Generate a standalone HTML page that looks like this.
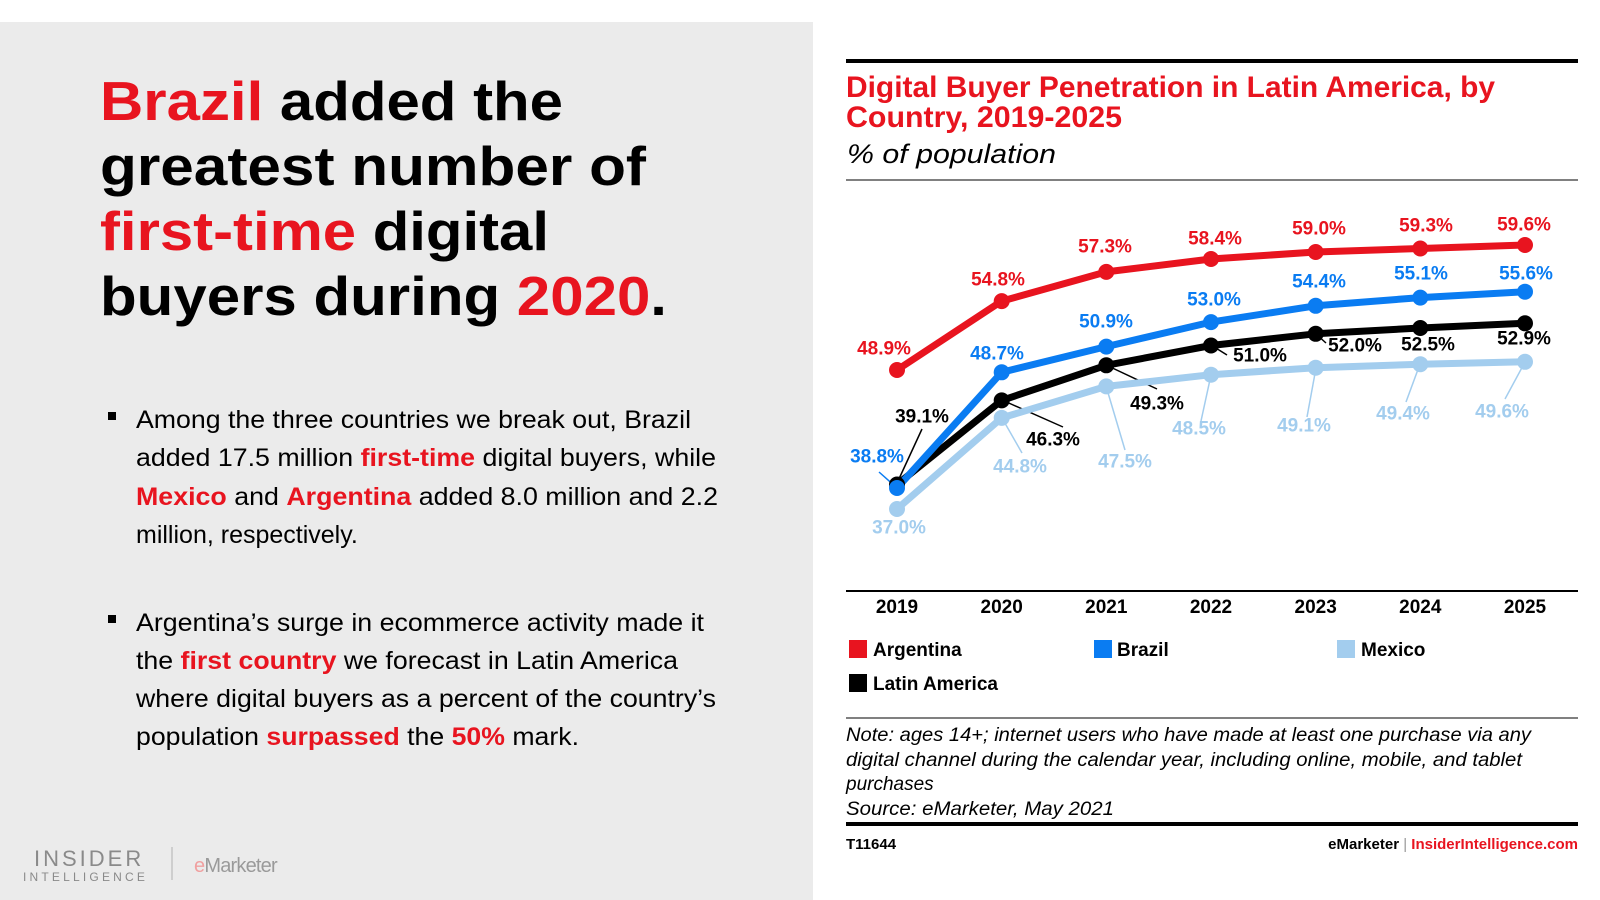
<!DOCTYPE html>
<html><head><meta charset="utf-8"><style>
html,body{margin:0;padding:0;background:#fff}
svg{display:block}
text{font-family:"Liberation Sans",Arial,sans-serif}
</style></head><body>
<svg width="1600" height="900" viewBox="0 0 1600 900" xmlns="http://www.w3.org/2000/svg">
<rect x="0" y="22" width="813" height="878" fill="#ebebeb"/>
<!-- headline -->
<g font-size="55" font-weight="bold" fill="#000">
<text x="100" y="120" textLength="463" lengthAdjust="spacingAndGlyphs"><tspan fill="#e8141f">Brazil</tspan> added the</text>
<text x="100" y="185" textLength="546" lengthAdjust="spacingAndGlyphs">greatest number of</text>
<text x="100" y="250" textLength="449" lengthAdjust="spacingAndGlyphs"><tspan fill="#e8141f">first-time</tspan> digital</text>
<text x="100" y="315" textLength="567" lengthAdjust="spacingAndGlyphs">buyers during <tspan fill="#e8141f">2020</tspan>.</text>
</g>
<g font-size="25" fill="#000">
<rect x="108" y="412" width="8" height="8"/>
<text x="136" y="428" textLength="555" lengthAdjust="spacingAndGlyphs">Among the three countries we break out, Brazil</text>
<text x="136" y="466" textLength="580" lengthAdjust="spacingAndGlyphs">added 17.5 million <tspan fill="#e8141f" font-weight="bold">first-time</tspan> digital buyers, while</text>
<text x="136" y="505" textLength="582" lengthAdjust="spacingAndGlyphs"><tspan fill="#e8141f" font-weight="bold">Mexico</tspan> and <tspan fill="#e8141f" font-weight="bold">Argentina</tspan> added 8.0 million and 2.2</text>
<text x="136" y="543">million, respectively.</text>
<rect x="108" y="615" width="8" height="8"/>
<text x="136" y="631" textLength="568" lengthAdjust="spacingAndGlyphs">Argentina’s surge in ecommerce activity made it</text>
<text x="136" y="669" textLength="542" lengthAdjust="spacingAndGlyphs">the <tspan fill="#e8141f" font-weight="bold">first country</tspan> we forecast in Latin America</text>
<text x="136" y="707" textLength="580" lengthAdjust="spacingAndGlyphs">where digital buyers as a percent of the country’s</text>
<text x="136" y="745" textLength="443" lengthAdjust="spacingAndGlyphs">population <tspan fill="#e8141f" font-weight="bold">surpassed</tspan> the <tspan fill="#e8141f" font-weight="bold">50%</tspan> mark.</text>
</g>
<!-- logo -->
<text x="34" y="866" font-size="22" fill="#8a8a8a" letter-spacing="3">INSIDER</text>
<text x="23" y="881" font-size="12" fill="#8a8a8a" letter-spacing="3.2">INTELLIGENCE</text>
<line x1="172" y1="847" x2="172" y2="880" stroke="#c4c4c4" stroke-width="1.5"/>
<text x="194" y="872" font-size="20" fill="#9a9a9a" letter-spacing="-0.8"><tspan fill="#f0a0a0">e</tspan>Marketer</text>

<!-- chart -->
<rect x="846" y="59" width="732" height="4" fill="#000"/>
<g font-size="30" font-weight="bold" fill="#e8141f">
<text x="846" y="97" textLength="649" lengthAdjust="spacingAndGlyphs">Digital Buyer Penetration in Latin America, by</text>
<text x="846" y="127" textLength="276" lengthAdjust="spacingAndGlyphs">Country,  2019-2025</text>
</g>
<text x="847" y="163" font-size="27" font-style="italic" fill="#000" textLength="209" lengthAdjust="spacingAndGlyphs">% of population</text>
<line x1="846" y1="180" x2="1578" y2="180" stroke="#000" stroke-width="1"/>

<!-- leaders -->
<g stroke-width="1.5" fill="none">
<g stroke="#000">
<line x1="898" y1="481" x2="922" y2="429"/>
<line x1="1002" y1="400" x2="1063" y2="427"/>
<line x1="1106" y1="365" x2="1157" y2="389"/>
<line x1="1211" y1="345" x2="1227" y2="355"/>
<line x1="1316" y1="334" x2="1326" y2="343"/>
</g>
<g stroke="#0a7cf2"><line x1="879" y1="472" x2="897" y2="488"/></g>
<g stroke="#a3cdee">
<line x1="1002" y1="418" x2="1022" y2="453"/>
<line x1="1106" y1="386" x2="1125" y2="450"/>
<line x1="1211" y1="375" x2="1201" y2="421"/>
<line x1="1316" y1="368" x2="1307" y2="417"/>
<line x1="1420" y1="364" x2="1406" y2="402"/>
<line x1="1525" y1="362" x2="1505" y2="399"/>
</g>
</g>
<!-- series -->
<g fill="none" stroke-width="7" stroke-linejoin="round">
<polyline stroke="#a3cdee" points="897,509 1001.7,417.9 1106.3,386.4 1211,374.7 1315.7,367.7 1420.3,364.2 1525,361.8"/>
<polyline stroke="#000" points="897,484.5 1001.7,400.4 1106.3,365.3 1211,345.5 1315.7,333.8 1420.3,328 1525,323.3"/>
<polyline stroke="#0a7cf2" points="897,488 1001.7,372.3 1106.3,346.6 1211,322.1 1315.7,305.8 1420.3,297.6 1525,291.7"/>
<polyline stroke="#e8141f" points="897,370 1001.7,301.1 1106.3,271.9 1211,259 1315.7,252 1420.3,248.5 1525,245"/>
</g>
<g fill="#a3cdee"><circle cx="897" cy="509" r="8"/><circle cx="1001.7" cy="417.9" r="8"/><circle cx="1106.3" cy="386.4" r="8"/><circle cx="1211" cy="374.7" r="8"/><circle cx="1315.7" cy="367.7" r="8"/><circle cx="1420.3" cy="364.2" r="8"/><circle cx="1525" cy="361.8" r="8"/></g>
<g fill="#000"><circle cx="897" cy="484.5" r="8"/><circle cx="1001.7" cy="400.4" r="8"/><circle cx="1106.3" cy="365.3" r="8"/><circle cx="1211" cy="345.5" r="8"/><circle cx="1315.7" cy="333.8" r="8"/><circle cx="1420.3" cy="328" r="8"/><circle cx="1525" cy="323.3" r="8"/></g>
<g fill="#0a7cf2"><circle cx="897" cy="488" r="8"/><circle cx="1001.7" cy="372.3" r="8"/><circle cx="1106.3" cy="346.6" r="8"/><circle cx="1211" cy="322.1" r="8"/><circle cx="1315.7" cy="305.8" r="8"/><circle cx="1420.3" cy="297.6" r="8"/><circle cx="1525" cy="291.7" r="8"/></g>
<g fill="#e8141f"><circle cx="897" cy="370" r="8"/><circle cx="1001.7" cy="301.1" r="8"/><circle cx="1106.3" cy="271.9" r="8"/><circle cx="1211" cy="259" r="8"/><circle cx="1315.7" cy="252" r="8"/><circle cx="1420.3" cy="248.5" r="8"/><circle cx="1525" cy="245" r="8"/></g>

<!-- labels -->
<g font-size="19" font-weight="bold" text-anchor="middle" dominant-baseline="central">
<g fill="#e8141f">
<text x="884" y="349">48.9%</text><text x="998" y="280">54.8%</text><text x="1105" y="247">57.3%</text><text x="1215" y="239">58.4%</text><text x="1319" y="229">59.0%</text><text x="1426" y="226">59.3%</text><text x="1524" y="225">59.6%</text>
</g>
<g fill="#0a7cf2">
<text x="877" y="457">38.8%</text><text x="997" y="354">48.7%</text><text x="1106" y="322">50.9%</text><text x="1214" y="300">53.0%</text><text x="1319" y="282">54.4%</text><text x="1421" y="274">55.1%</text><text x="1526" y="274">55.6%</text>
</g>
<g fill="#000">
<text x="922" y="417">39.1%</text><text x="1053" y="440">46.3%</text><text x="1157" y="404">49.3%</text><text x="1260" y="356">51.0%</text><text x="1355" y="346">52.0%</text><text x="1428" y="345">52.5%</text><text x="1524" y="339">52.9%</text>
</g>
<g fill="#a3cdee">
<text x="899" y="528">37.0%</text><text x="1020" y="467">44.8%</text><text x="1125" y="462">47.5%</text><text x="1199" y="429">48.5%</text><text x="1304" y="426">49.1%</text><text x="1403" y="414">49.4%</text><text x="1502" y="412">49.6%</text>
</g>
</g>
<!-- axis -->
<line x1="846" y1="591" x2="1578" y2="591" stroke="#000" stroke-width="2"/>
<g font-size="19" font-weight="bold" text-anchor="middle">
<text x="897" y="613">2019</text><text x="1001.7" y="613">2020</text><text x="1106.3" y="613">2021</text><text x="1211" y="613">2022</text><text x="1315.7" y="613">2023</text><text x="1420.3" y="613">2024</text><text x="1525" y="613">2025</text>
</g>
<!-- legend -->
<g font-size="19" font-weight="bold">
<rect x="849" y="640" width="18" height="18" fill="#e8141f"/><text x="873" y="656">Argentina</text>
<rect x="1094" y="640" width="18" height="18" fill="#0a7cf2"/><text x="1117" y="656">Brazil</text>
<rect x="1337" y="640" width="18" height="18" fill="#a3cdee"/><text x="1361" y="656">Mexico</text>
<rect x="849" y="674" width="18" height="18" fill="#000"/><text x="873" y="690">Latin America</text>
</g>
<line x1="846" y1="718" x2="1578" y2="718" stroke="#000" stroke-width="1"/>
<g font-size="19" font-style="italic" fill="#000">
<text x="846" y="741" textLength="685" lengthAdjust="spacingAndGlyphs">Note: ages 14+; internet users who have made at least one purchase via any</text>
<text x="846" y="766" textLength="676" lengthAdjust="spacingAndGlyphs">digital channel during the calendar year, including online, mobile, and tablet</text>
<text x="846" y="790">purchases</text>
<text x="846" y="815" textLength="268" lengthAdjust="spacingAndGlyphs">Source: eMarketer, May 2021</text>
</g>
<rect x="846" y="822" width="732" height="4" fill="#000"/>
<text x="846" y="849" font-size="15" font-weight="bold">T11644</text>
<text x="1578" y="849" font-size="15" font-weight="bold" text-anchor="end">eMarketer <tspan fill="#999" font-weight="normal">|</tspan> <tspan fill="#e8141f">InsiderIntelligence.com</tspan></text>
</svg>
</body></html>
